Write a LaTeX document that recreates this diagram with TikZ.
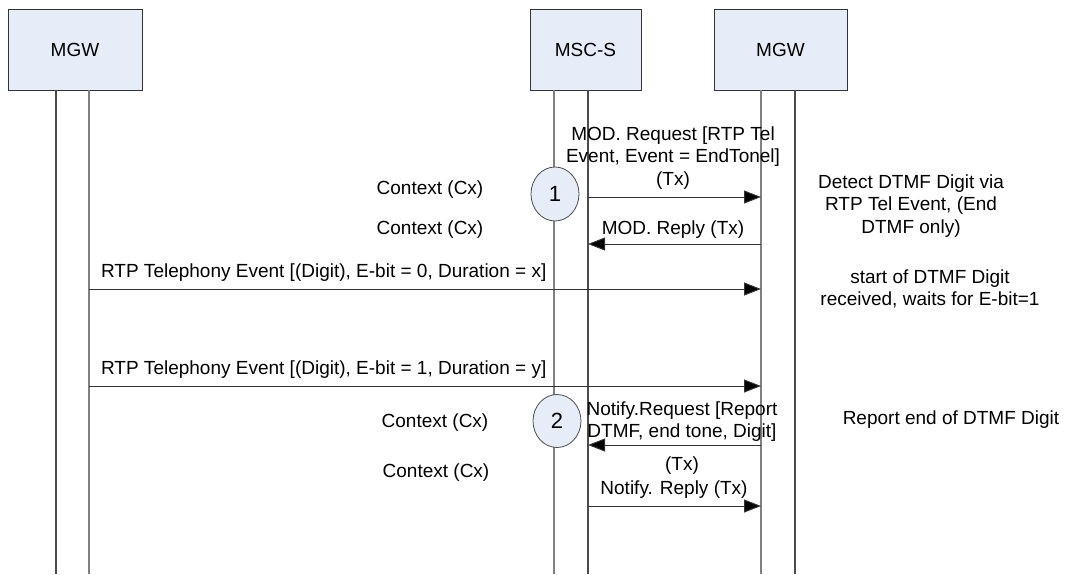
\documentclass[tikz,border=0pt]{standalone}
\usepackage{fontspec}
\setmainfont{Liberation Sans}
\usetikzlibrary{positioning,arrows.meta,shapes.geometric}
\definecolor{boxblue}{HTML}{E7EDF8}

\begin{document}
\begin{tikzpicture}[x=0.5pt,y=-0.5pt,
    every node/.style={font=\fontsize{9.5}{11.25}\selectfont},
    entity/.style={draw=black!80,fill=boxblue,minimum height=40.5pt,inner sep=0pt,line width=0.5pt},
    lifeA/.style={draw=black!70,line width=0.6pt},
    lifeB/.style={draw=black!50,line width=0.9pt},
    msg/.style={draw=black!80,line width=0.5pt,-{Triangle[length=8.5pt,width=6.5pt,fill=black]}},
    stepmark/.style={ellipse,draw=black!70,fill=boxblue,minimum width=24pt,minimum height=27pt,inner sep=0pt,font=\fontsize{11}{13}\selectfont}]
    \useasboundingbox (0,0) rectangle (1066,574);

    % entities
    \node[entity,minimum width=67pt] (mgwA) at (75,49.5) {MGW};
    \node[entity,minimum width=55.5pt] (msc) at (585.5,49.5) {MSC-S};
    \node[entity,minimum width=66.5pt] (mgwB) at (780.5,49.5) {MGW};

    % lifelines
    \coordinate (a1t) at (56,90);  \coordinate (a1b) at (56,574);
    \coordinate (a2t) at (89,90);  \coordinate (a2b) at (89,574);
    \coordinate (m1t) at (554,90); \coordinate (m1b) at (554,574);
    \coordinate (m2t) at (588,90); \coordinate (m2b) at (588,574);
    \coordinate (b1t) at (761,90); \coordinate (b1b) at (761,574);
    \coordinate (b2t) at (795,90); \coordinate (b2b) at (795,574);
    \draw[lifeA] (a1t) -- (a1b);
    \draw[lifeB] (a2t) -- (a2b);
    \draw[lifeB] (m1t) -- (m1b);
    \draw[lifeA] (m2t) -- (m2b);
    \draw[lifeB] (b1t) -- (b1b);
    \draw[lifeA] (b2t) -- (b2b);

    % step markers
    \node[stepmark] (s1) at (555,194) {1};
    \node[stepmark,minimum height=26.5pt] (s2) at (557,421) {2};

    % contexts
    \node (cx1) at (430,190) {Context (Cx)};
    \node (cx2) at (430,230) {Context (Cx)};
    \node (cx3) at (435,423) {Context (Cx)};
    \node (cx4) at (436,473) {Context (Cx)};

    % message ends
    \coordinate (r1s) at (588,197); \coordinate (r1e) at (761,197);
    \coordinate (r2s) at (761,244); \coordinate (r2e) at (588,244);
    \coordinate (e1s) at (89,289);  \coordinate (e1e) at (761,289);
    \coordinate (e2s) at (89,386);  \coordinate (e2e) at (761,386);
    \coordinate (n1s) at (761,445); \coordinate (n1e) at (588,445);
    \coordinate (n2s) at (588,506); \coordinate (n2e) at (761,506);

    % messages
    \draw[msg] (r1s) -- (r1e);
    \node[align=center] (modreq) at (673,158) {MOD. Request [RTP Tel\\Event, Event = EndTonel]\\(Tx)};
    \draw[msg] (r2s) -- (r2e);
    \node (modrep) at (673,230) {MOD. Reply (Tx)};
    \draw[msg] (e1s) -- (e1e);
    \node[anchor=west] (rtp0) at (94,273) {RTP Telephony Event [(Digit), E-bit = 0, Duration = x]};
    \draw[msg] (e2s) -- (e2e);
    \node[anchor=west] (rtp1) at (94,370) {RTP Telephony Event [(Digit), E-bit = 1, Duration = y]};
    \draw[msg] (n1s) -- (n1e);
    \node[align=center] (notreq) at (682,438) {Notify.Request [Report\\DTMF, end tone, Digit]\\[5pt](Tx)};
    \draw[msg] (n2s) -- (n2e);
    \node (notrep) at (674,490) {Notify. Reply (Tx)};

    % notes
    \node[align=center] (note1) at (911,206) {Detect DTMF Digit via\\RTP Tel Event, (End\\DTMF only)};
    \node[align=center] (note2) at (930,289) {start of DTMF Digit\\received, waits for E-bit=1};
    \node (note3) at (951,420) {Report end of DTMF Digit};
\end{tikzpicture}
\end{document}
